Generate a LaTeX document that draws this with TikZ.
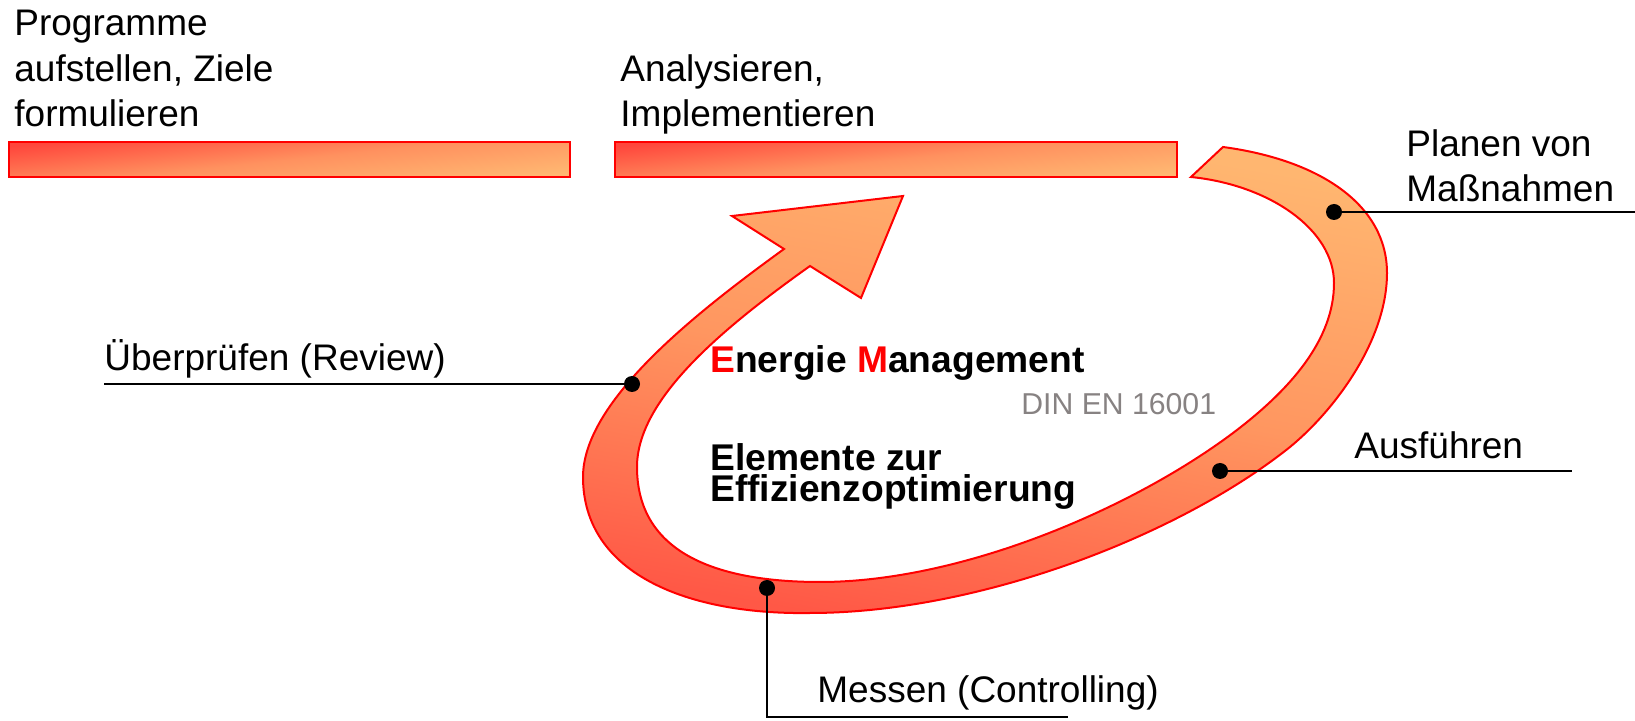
\documentclass[tikz,border=0pt]{standalone}
\usepackage{fontspec}
\setmainfont{Liberation Sans}
\definecolor{barred}{RGB}{255,70,60}
\definecolor{barmid}{RGB}{255,145,95}
\definecolor{barorange}{RGB}{255,184,114}
\definecolor{loopred}{RGB}{255,88,70}
\definecolor{loopmid}{RGB}{255,150,96}
\definecolor{looporange}{RGB}{255,182,112}
\definecolor{dingray}{RGB}{135,130,130}
\pgfdeclareverticalshading{barshade}{100bp}{color(0bp)=(barorange); color(25bp)=(barorange); color(50bp)=(barmid); color(75bp)=(barred); color(100bp)=(barred)}
\pgfdeclareverticalshading{loopshade}{100bp}{color(0bp)=(loopred); color(25bp)=(loopred); color(50bp)=(loopmid); color(75bp)=(looporange); color(100bp)=(looporange)}
\tikzset{
  lbl/.style={font=\fontsize{18.5pt}{22.75pt}\selectfont, inner sep=0pt, anchor=base west, align=left},
  boldlbl/.style={font=\fontsize{18.6pt}{15.7pt}\selectfont\bfseries, inner sep=0pt, anchor=base west, align=left},
  dinlbl/.style={font=\fontsize{15.1pt}{18pt}\selectfont, text=dingray, inner sep=0pt, anchor=base west},
  phasebar/.style={shade, shading=barshade, shading angle=6, draw=red, line width=1pt},
  loopband/.style={shade, shading=loopshade, shading angle=-10, draw=red, line width=1pt, line join=miter},
  leader/.style={line width=1.3pt, black},
  dotmark/.style={fill=black},
}
\begin{document}
\begin{tikzpicture}[x=0.5pt, y=-0.5pt]
\useasboundingbox (0,0) rectangle (1635,721);

% bars
\path[phasebar] (9,142) rectangle (570,177);
\path[phasebar] (615,142) rectangle (1177,177);

% loop arrow
\path[loopband]
  (1223,147) .. controls (1320,160) and (1387,205) .. (1387,273)
  .. controls (1387,340) and (1335,410) .. (1290,447)
  .. controls (1180,535) and (980,613) .. (810,613)
  .. controls (690,615) and (583,575) .. (583,477)
  .. controls (583,400) and (700,310) .. (784,249)
  -- (732,216) -- (903,196) -- (861,298) -- (810,266)
  .. controls (720,330) and (637,400) .. (637,467)
  .. controls (637,560) and (730,582) .. (820,582)
  .. controls (960,582) and (1130,510) .. (1233,433)
  .. controls (1290,390) and (1334,340) .. (1334,283)
  .. controls (1334,230) and (1270,185) .. (1191,177)
  -- cycle;

% labels (anchor = baseline of the last line)
\node[lbl] (prog) at (14,127) {Programme\\aufstellen, Ziele\\formulieren};
\node[lbl] (anal) at (620,127) {Analysieren,\\Implementieren};
\node[lbl] (plan) at (1406,202) {Planen von\\Maßnahmen};
\node[lbl] (review) at (104,371) {Überprüfen (Review)};
\node[lbl] (ausf) at (1354,459) {Ausführen};
\node[lbl] (mess) at (817,703) {Messen (Controlling)};

\node[boldlbl] (em) at (710,372.5) {\textcolor{red}{E}nergie \textcolor{red}{M}anagement};
\node[dinlbl] (din) at (1021,415) {DIN EN 16001};
\node[boldlbl] (elem) at (710,502) {Elemente zur\\Effizienzoptimierung};

% leader lines
\coordinate (dplan) at (1334,212);
\coordinate (eplan) at (1635,212);
\coordinate (drev) at (632,384);
\coordinate (erev) at (104,384);
\coordinate (daus) at (1220,471);
\coordinate (eaus) at (1572,471);
\coordinate (dmes) at (767,588);
\coordinate (kmes) at (767,717);
\coordinate (emes) at (1068,717);

\draw[leader] (dplan) -- (eplan);
\draw[leader] (drev) -- (erev);
\draw[leader] (daus) -- (eaus);
\draw[leader] (dmes) -- (kmes) -- (emes);

\fill[dotmark] (dplan) circle[radius=4pt];
\fill[dotmark] (drev) circle[radius=4pt];
\fill[dotmark] (daus) circle[radius=4pt];
\fill[dotmark] (dmes) circle[radius=4pt];
\end{tikzpicture}
\end{document}
